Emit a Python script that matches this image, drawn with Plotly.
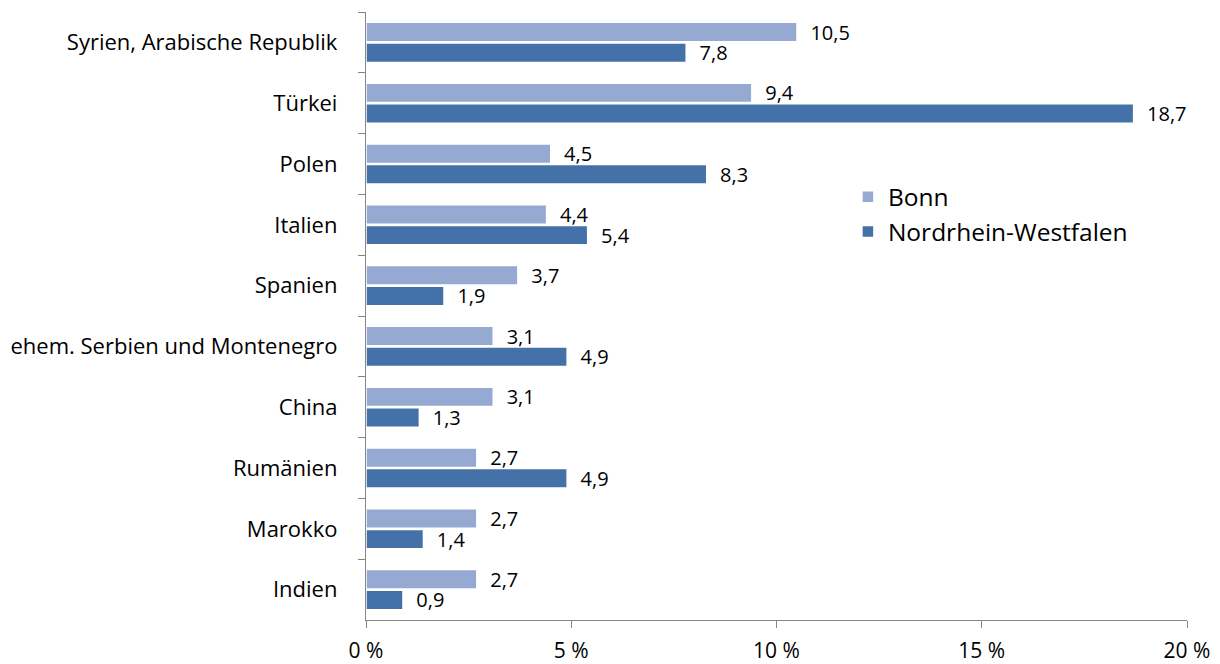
import plotly.graph_objects as go

categories = ["Syrien, Arabische Republik", "Türkei", "Polen", "Italien", "Spanien",
              "ehem. Serbien und Montenegro", "China", "Rumänien", "Marokko", "Indien"]
bonn = [10.5, 9.4, 4.5, 4.4, 3.7, 3.1, 3.1, 2.7, 2.7, 2.7]
nrw = [7.8, 18.7, 8.3, 5.4, 1.9, 4.9, 1.3, 4.9, 1.4, 0.9]
x_ticks = [0, 5, 10, 15, 20]
x_tick_labels = ["0 %", "5 %", "10 %", "15 %", "20 %"]

FONT = "'Open Sans', sans-serif"
LBL = "\u00a0\u00a0%{x:.1f}"

fig = go.Figure()
fig.add_trace(go.Bar(
    y=categories, x=bonn, orientation="h", name="Bonn",
    marker=dict(color="#95A9D3", line=dict(color="white", width=1.5)),
    texttemplate=LBL, textposition="outside", cliponaxis=False, constraintext="none",
    textfont=dict(size=20, color="black", family=FONT),
))
fig.add_trace(go.Bar(
    y=categories, x=nrw, orientation="h", name="Nordrhein-Westfalen",
    marker=dict(color="#4472A8", line=dict(color="white", width=1.5)),
    texttemplate=LBL, textposition="outside", cliponaxis=False, constraintext="none",
    textfont=dict(size=20, color="black", family=FONT),
))

fig.update_layout(
    width=1212, height=656,
    margin=dict(l=358, r=33, t=4, b=44),
    paper_bgcolor="white", plot_bgcolor="white",
    barmode="group", bargap=0.32, bargroupgap=0.06,
    separators=",.",
    font=dict(family=FONT, size=18, color="black"),
    showlegend=True,
    legend=dict(x=0.587, y=0.733, xanchor="left", yanchor="top",
                font=dict(size=24.5, family=FONT), bgcolor="rgba(0,0,0,0)",
                itemwidth=30, tracegroupgap=2),
    xaxis=dict(range=[0, 20], tickvals=x_ticks, ticktext=x_tick_labels,
               showgrid=False, zeroline=False, showline=True, automargin=False,
               linecolor="#868686", linewidth=1.3,
               ticks="outside", ticklen=7, tickcolor="#868686",
               ticklabelstandoff=5,
               tickfont=dict(size=21, family=FONT)),
    yaxis=dict(autorange="reversed", showgrid=False, showline=True, automargin=False,
               linecolor="#868686", linewidth=1.3,
               ticks="outside", ticklen=7, tickcolor="#868686",
               tickson="boundaries", ticklabelstandoff=23,
               tickfont=dict(size=22, family=FONT)),
)

fig.write_html("out.html")
